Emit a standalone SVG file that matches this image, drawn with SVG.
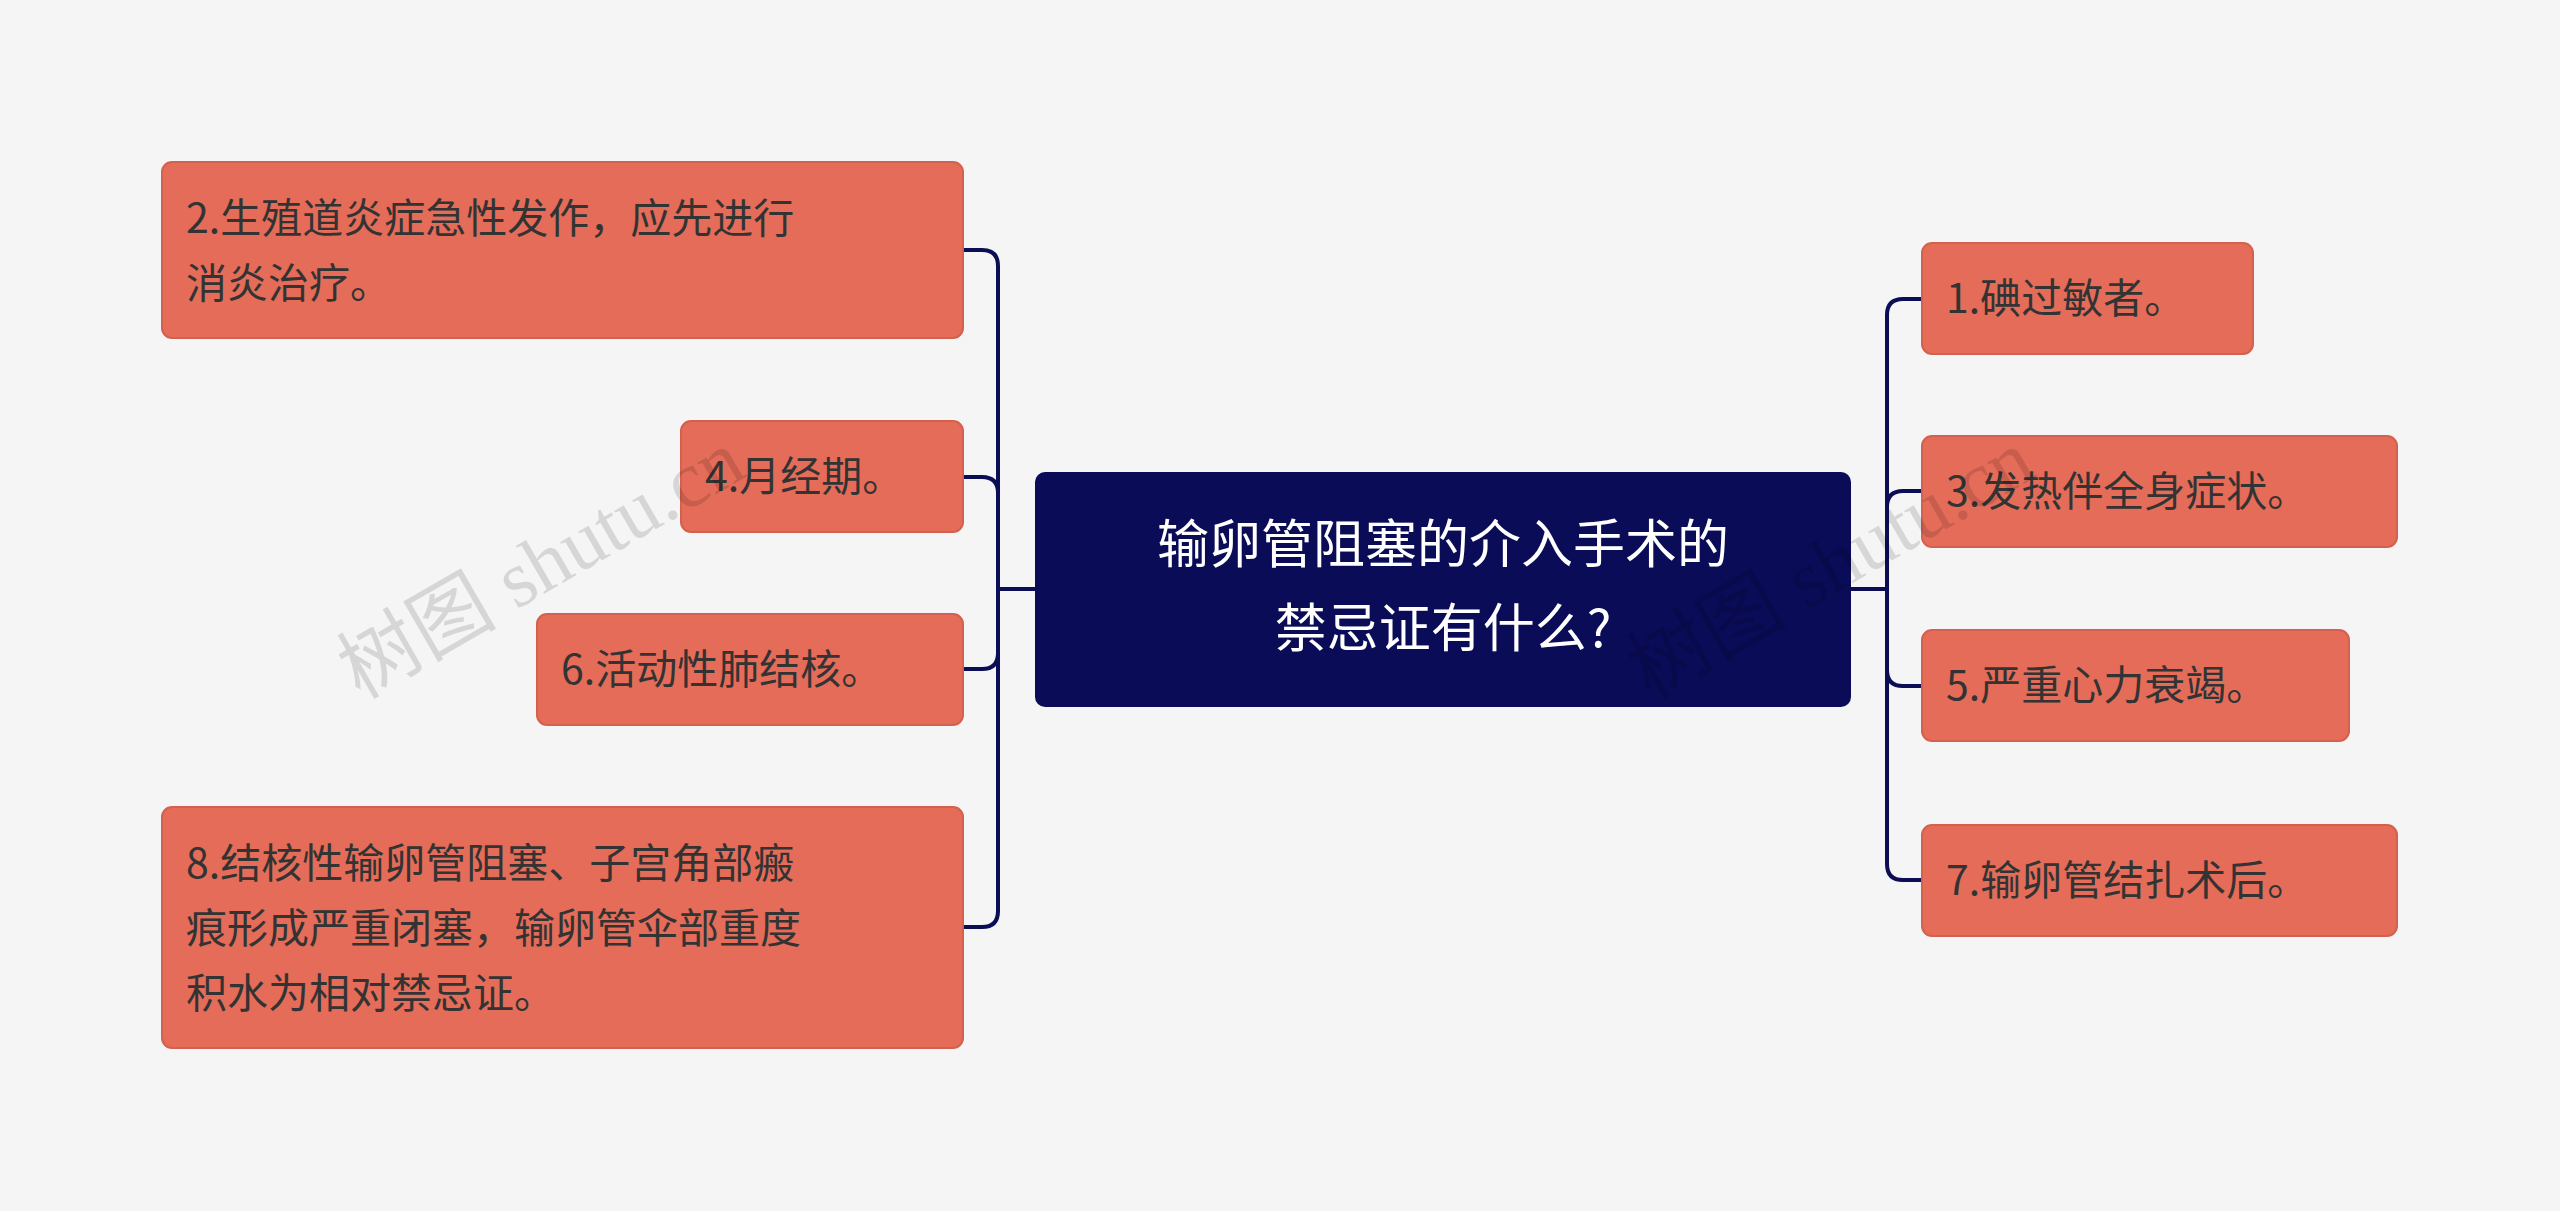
<svg xmlns="http://www.w3.org/2000/svg" width="2560" height="1211" viewBox="0 0 2560 1211">
<style>
.n{fill:#E46C59;stroke:#D4604E;stroke-width:2}
.t{font-family:"Noto Sans CJK SC",sans-serif;font-size:41px;fill:#333}
.c{fill:none;stroke:#0B0D55;stroke-width:4}
.w{font-family:"Liberation Serif","Noto Sans CJK SC",serif;font-size:80px;fill:#000;opacity:0.12}
</style>
<rect width="2560" height="1211" fill="#F5F5F5"/>
<g id="connectors">
<path class="c" d="M1035 589H998M963 250H982Q998 250 998 266V911Q998 927 982 927H963M963 477H982Q998 477 998 493M998 653Q998 669 982 669H963"/>
<path class="c" d="M1851 589H1887M1922 299H1903Q1887 299 1887 315V864Q1887 880 1903 880H1922M1922 491H1903Q1887 491 1887 507V670Q1887 686 1903 686H1922"/>
</g>
<g id="center"><rect x="1035" y="472" width="816" height="235" rx="10" fill="#0A0C57"/>
<text x="1443" y="563" text-anchor="middle" style="font-family:'Noto Sans CJK SC',sans-serif;font-size:52px;fill:#fff">输卵管阻塞的介入手术的</text>
<text x="1443" y="647" text-anchor="middle" style="font-family:'Noto Sans CJK SC',sans-serif;font-size:52px;fill:#fff">禁忌证有什么?</text></g>
<g id="n2"><rect class="n" x="162" y="162" width="801" height="176" rx="10"/><text class="t" x="186" y="233">2.生殖道炎症急性发作，应先进行</text><text class="t" x="186" y="298">消炎治疗。</text></g>
<g id="n4"><rect class="n" x="681" y="421" width="282" height="111" rx="10"/><text class="t" x="705" y="491">4.月经期。</text></g>
<g id="n6"><rect class="n" x="537" y="614" width="426" height="111" rx="10"/><text class="t" x="561" y="684">6.活动性肺结核。</text></g>
<g id="n8"><rect class="n" x="162" y="807" width="801" height="241" rx="10"/><text class="t" x="186" y="878">8.结核性输卵管阻塞、子宫角部瘢</text><text class="t" x="186" y="943">痕形成严重闭塞，输卵管伞部重度</text><text class="t" x="186" y="1008">积水为相对禁忌证。</text></g>
<g id="n1"><rect class="n" x="1922" y="243" width="331" height="111" rx="10"/><text class="t" x="1946" y="313">1.碘过敏者。</text></g>
<g id="n3"><rect class="n" x="1922" y="436" width="475" height="111" rx="10"/><text class="t" x="1946" y="506">3.发热伴全身症状。</text></g>
<g id="n5"><rect class="n" x="1922" y="630" width="427" height="111" rx="10"/><text class="t" x="1946" y="700">5.严重心力衰竭。</text></g>
<g id="n7"><rect class="n" x="1922" y="825" width="475" height="111" rx="10"/><text class="t" x="1946" y="895">7.输卵管结扎术后。</text></g>
<text class="w" transform="translate(360 700) rotate(-30)">树图 shutu.cn</text>
<text class="w" transform="translate(1650 700) rotate(-30)">树图 shutu.cn</text>
</svg>
